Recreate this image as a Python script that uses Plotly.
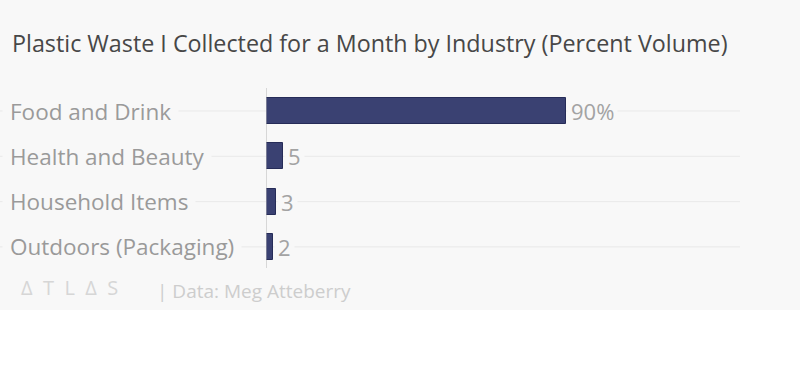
import plotly.graph_objects as go

categories = ["Food and Drink", "Health and Beauty", "Household Items", "Outdoors (Packaging)"]
values = [90, 5, 3, 2]
value_labels = ["90%", "5", "3", "2"]
title_text = "Plastic Waste I Collected for a Month by Industry (Percent Volume)"
logo_text = "Δ  T  L  Δ  S"
source_text = "| Data: Meg Atteberry"

W, H = 800, 366
BG = "#f8f8f8"
FONT = "Open Sans"

fig = go.Figure()
fig.add_trace(go.Bar(
    x=values, y=categories, orientation="h",
    marker=dict(color="#3a4172", line=dict(color="#262c58", width=1)),
    width=0.57, hoverinfo="skip", showlegend=False,
))

# y positions: category 0 at px 111, spacing ~45.3 px
step = 45.3
first = 111
y_top = -first / step
y_bot = (H - first) / step

shapes = [
    dict(type="rect", xref="paper", yref="paper", x0=0, x1=1, y0=1 - 310 / H, y1=1,
         fillcolor=BG, line=dict(width=0), layer="below"),
]
for c in categories:
    shapes.append(dict(type="line", xref="paper", yref="y", x0=0, x1=740 / W, y0=c, y1=c,
                       line=dict(color="#e9e9e9", width=1), layer="below"))
shapes.append(dict(type="line", xref="x", yref="paper", x0=0, x1=0,
                   y0=1 - 268 / H, y1=1 - 88 / H, line=dict(color="#b5b5b5", width=1), layer="above"))

annotations = []
for c in categories:
    annotations.append(dict(x=10 / W, xref="paper", y=c, yref="y", text=c, showarrow=False,
                            xanchor="left", yanchor="middle", xshift=-8, bgcolor=BG, borderpad=7,
                            font=dict(family=FONT, size=22.5, color="#9a9a9a")))
for c, v, t in zip(categories, values, value_labels):
    annotations.append(dict(x=v, xref="x", y=c, yref="y", text=t, showarrow=False,
                            xanchor="left", yanchor="middle", xshift=1, bgcolor=BG, borderpad=3,
                            font=dict(family=FONT, size=22, color="#a3a3a3")))
annotations.append(dict(x=10 / W, xref="paper", y=1 - 43 / H, yref="paper", text=title_text,
                        showarrow=False, xanchor="left", yanchor="middle",
                        font=dict(family=FONT, size=23.3, color="#474747")))
annotations.append(dict(x=19 / W, xref="paper", y=1 - 287 / H, yref="paper", text=logo_text,
                        showarrow=False, xanchor="left", yanchor="middle",
                        font=dict(family=FONT, size=20, color="#d6d6d6")))
annotations.append(dict(x=155 / W, xref="paper", y=1 - 291 / H, yref="paper", text=source_text,
                        showarrow=False, xanchor="left", yanchor="middle",
                        font=dict(family=FONT, size=19, color="#cdcdcd")))

fig.update_layout(
    width=W, height=H,
    margin=dict(l=0, r=0, t=0, b=0),
    paper_bgcolor="white", plot_bgcolor="rgba(0,0,0,0)",
    xaxis=dict(domain=[266 / W, 740 / W], range=[0, (740 - 266) / (300 / 90)],
               showgrid=False, zeroline=False, showticklabels=False, showline=False, fixedrange=True),
    yaxis=dict(domain=[0, 1], type="category", categoryorder="array", categoryarray=categories,
               range=[y_bot, y_top], autorange=False,
               showgrid=False, zeroline=False, showticklabels=False, showline=False, fixedrange=True),
    shapes=shapes, annotations=annotations, bargap=0,
)

fig.write_html("out.html", config={"displayModeBar": False},
               post_script="document.body.style.margin='0';")
